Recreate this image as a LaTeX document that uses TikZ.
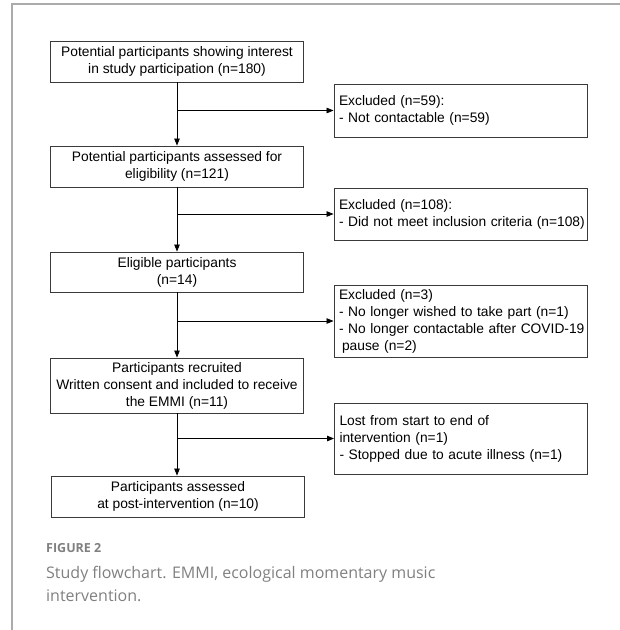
\documentclass[tikz,border=0pt]{standalone}
\usepackage{fontspec}
\setmainfont{Liberation Sans}
\newfontfamily\capfont{Open Sans}
\usetikzlibrary{arrows.meta}
\definecolor{framegray}{HTML}{ABABAB}
\definecolor{capgray}{HTML}{808080}
\definecolor{boxline}{HTML}{3A3A3A}
\hbadness=10000 \hfuzz=50pt
\begin{document}
\begin{tikzpicture}[x=1pt,y=-1pt,
  boxfont/.style={font=\fontsize{13.8}{17}\selectfont},
  mainbox/.style={boxfont, draw=boxline, line width=0.9pt, minimum width=253pt, inner sep=0pt, align=center},
  exbox/.style={boxfont, draw=boxline, line width=0.9pt, text width=243pt, inner xsep=5pt, inner ysep=0pt, align=left},
  flow/.style={draw=black, line width=0.8pt, -{Triangle[length=7pt,width=5.5pt]}}
]
\useasboundingbox (0,0) rectangle (620,630);
\draw[framegray, line width=1.3pt] (12,630) -- (12,4) -- (620,4);

\node[mainbox, minimum height=41pt] (b1) at (177,61.5) {Potential participants showing interest\\in study participation (n=180)};
\node[exbox, minimum height=53pt] (e1) at (460.5,110.5) {\mbox{Excluded (n=59):}\\\mbox{- Not contactable (n=59)}};
\node[mainbox, minimum height=41pt] (b2) at (177,166.5) {Potential participants assessed for\\eligibility (n=121)};
\node[exbox, minimum height=52pt] (e2) at (460.5,214) {\mbox{Excluded (n=108):}\\\mbox{- Did not meet inclusion criteria (n=108)}};
\node[mainbox, minimum height=40pt] (b3) at (177,272) {Eligible participants\\(n=14)};
\node[exbox, minimum height=72pt] (e3) at (460.5,321) {\mbox{Excluded (n=3)}\\\mbox{- No longer wished to take part (n=1)}\\\mbox{- No longer contactable after COVID-19}\\\mbox{\hspace*{3pt}pause (n=2)}};
\node[mainbox, minimum height=55pt] (b4) at (177,385.5) {Participants recruited\\Written consent and included to receive\\the EMMI (n=11)};
\node[exbox, minimum height=71pt] (e4) at (461,438.5) {\mbox{Lost from start to end of}\\\mbox{intervention (n=1)}\\\mbox{- Stopped due to acute illness (n=1)}};
\node[mainbox, minimum height=41pt] (b5) at (178,496.5) {Participants assessed\\at post-intervention (n=10)};

\draw[flow] (b1.south) -- (b2.north);
\draw[flow] (b2.south) -- (b3.north);
\draw[flow] (b3.south) -- (b4.north);
\draw[flow] (b4.south) -- (b4.south |- b5.north);
\draw[flow] (b1.south |- e1.west) -- (e1.west);
\draw[flow] (b2.south |- e2.west) -- (e2.west);
\draw[flow] (b3.south |- e3.west) -- (e3.west);
\draw[flow] (b4.south |- e4.west) -- (e4.west);

\node[anchor=base west, text=capgray, font=\capfont\bfseries\fontsize{12.5}{15}\selectfont, inner sep=0pt] (fig) at (46,552.5) {FIGURE 2};
\node[anchor=base west, text=capgray, font=\capfont\fontsize{16}{23}\selectfont, inner sep=0pt] (cap1) at (46,578) {Study flowchart. EMMI, ecological momentary music};
\node[anchor=base west, text=capgray, font=\capfont\fontsize{16}{23}\selectfont, inner sep=0pt] (cap2) at (46,601) {intervention.};
\end{tikzpicture}
\end{document}
